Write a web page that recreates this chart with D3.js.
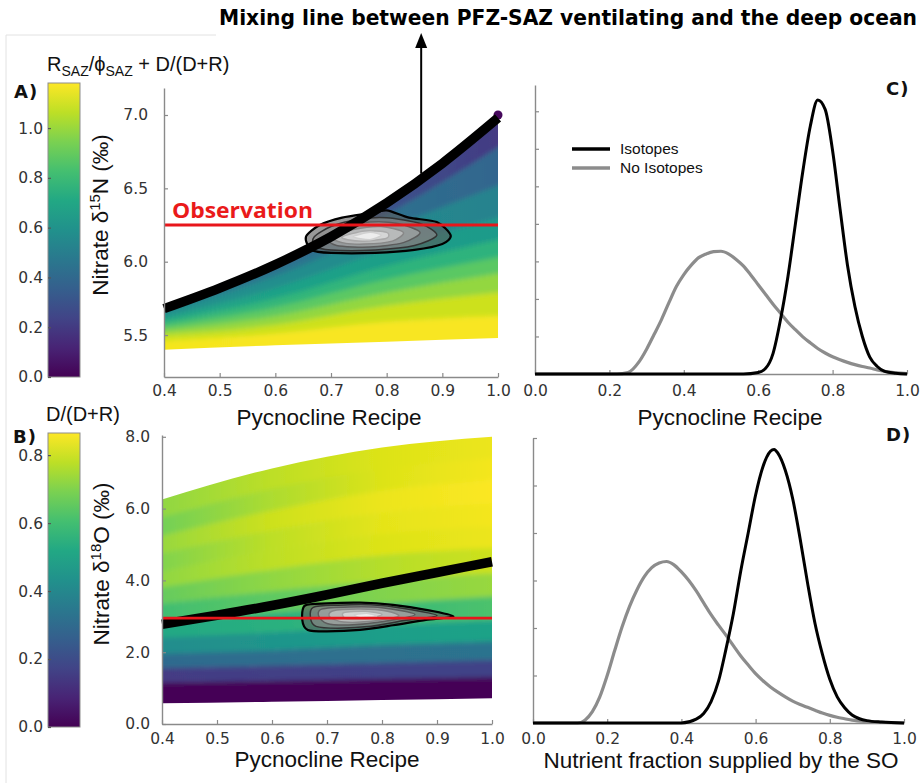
<!DOCTYPE html>
<html>
<head>
<meta charset="utf-8">
<script src="https://cdn.jsdelivr.net/npm/d3@7"></script>
<style>
  body { margin: 0; background: #fff; }
  svg { display: block; }
</style>
</head>
<body>
<div id="figure"></div>
<script>
// ---- data ----
// panels A/B : model scatter band, described by boundary lines at these recipe knots
var bandKnots = [0.4, 0.6, 0.8, 1.0];

// A) nitrate d15N, lines top -> bottom, and colour value of each band (R/phi + D/(D+R))
var linesN = [
  [5.69, 5.98, 6.40, 6.96],
  [5.68, 5.95, 6.32, 6.78],
  [5.66, 5.90, 6.22, 6.52],
  [5.62, 5.82, 6.08, 6.30],
  [5.59, 5.75, 5.97, 6.15],
  [5.56, 5.69, 5.88, 6.03],
  [5.53, 5.63, 5.79, 5.92],
  [5.50, 5.57, 5.70, 5.79],
  [5.46, 5.51, 5.59, 5.63],
  [5.40, 5.43, 5.455, 5.48]
];
var colorsN = [
  [0.45, 0.38, 0.30, 0.20],
  [0.50, 0.47, 0.44, 0.38],
  [0.60, 0.58, 0.56, 0.52],
  [0.70, 0.68, 0.66, 0.64],
  [0.80, 0.78, 0.77, 0.76],
  [0.90, 0.89, 0.88, 0.88],
  [1.00, 0.99, 0.99, 0.99],
  [1.09, 1.09, 1.09, 1.09],
  [1.16, 1.17, 1.17, 1.17]
];

// B) nitrate d18O, colour = D/(D+R)
var linesO = [
  [6.25, 7.12, 7.70, 8.00],
  [5.75, 6.55, 7.10, 7.40],
  [5.25, 5.95, 6.50, 6.80],
  [4.75, 5.40, 5.90, 6.15],
  [4.25, 4.85, 5.30, 5.50],
  [3.80, 4.30, 4.70, 4.90],
  [3.35, 3.70, 4.00, 4.20],
  [2.85, 3.10, 3.35, 3.55],
  [2.40, 2.55, 2.75, 2.90],
  [1.95, 2.05, 2.20, 2.30],
  [1.55, 1.62, 1.70, 1.78],
  [1.15, 1.20, 1.25, 1.30],
  [0.58, 0.62, 0.67, 0.72]
];
var colorsO = [
  [0.72, 0.78, 0.82, 0.84],
  [0.68, 0.76, 0.82, 0.85],
  [0.73, 0.80, 0.84, 0.86],
  [0.70, 0.78, 0.83, 0.85],
  [0.72, 0.78, 0.82, 0.84],
  [0.66, 0.72, 0.77, 0.80],
  [0.60, 0.65, 0.70, 0.73],
  [0.52, 0.55, 0.58, 0.62],
  [0.42, 0.45, 0.48, 0.50],
  [0.30, 0.31, 0.32, 0.33],
  [0.15, 0.16, 0.17, 0.17],
  [0.01, 0.01, 0.01, 0.01]
];

// mixing line between PFZ-SAZ ventilating water and the deep ocean
var mixRecipe = [0.4, 0.5, 0.6, 0.7, 0.8, 0.9, 1.0];
var mixN = [5.68, 5.82, 5.98, 6.17, 6.40, 6.67, 6.98];
var mixO = [2.78, 3.03, 3.30, 3.60, 3.92, 4.22, 4.52];
var obsN = 6.25, obsO = 2.95;
var topDotN = [1.0, 7.0];
var arrowFrom = [0.862, 6.60];

// posterior density contours (outer -> inner), [recipe, value]
var contoursN = [
  [[0.655,6.17],[0.68,6.25],[0.72,6.30],[0.77,6.33],[0.80,6.35],[0.84,6.30],[0.89,6.27],[0.915,6.18],[0.90,6.12],[0.85,6.08],[0.78,6.06],[0.70,6.06],[0.665,6.08]],
  [[0.67,6.17],[0.70,6.24],[0.75,6.29],[0.80,6.30],[0.86,6.26],[0.89,6.18],[0.85,6.11],[0.78,6.08],[0.70,6.08],[0.67,6.11]],
  [[0.69,6.17],[0.72,6.23],[0.77,6.27],[0.82,6.26],[0.86,6.20],[0.83,6.13],[0.77,6.10],[0.71,6.11]],
  [[0.70,6.17],[0.74,6.22],[0.79,6.24],[0.83,6.20],[0.81,6.14],[0.76,6.12],[0.72,6.13]],
  [[0.72,6.17],[0.76,6.21],[0.80,6.20],[0.80,6.16],[0.76,6.14],[0.73,6.15]],
  [[0.74,6.17],[0.77,6.20],[0.79,6.18],[0.77,6.15]]
];
var contoursO = [
  [[0.66,3.30],[0.70,3.36],[0.76,3.38],[0.82,3.32],[0.88,3.18],[0.93,3.00],[0.88,2.90],[0.82,2.75],[0.76,2.62],[0.70,2.58],[0.665,2.62],[0.655,2.90]],
  [[0.675,3.25],[0.72,3.31],[0.78,3.32],[0.84,3.22],[0.90,3.02],[0.84,2.88],[0.78,2.72],[0.72,2.67],[0.68,2.72],[0.67,2.95]],
  [[0.69,3.20],[0.74,3.26],[0.80,3.24],[0.86,3.05],[0.80,2.85],[0.74,2.76],[0.70,2.80],[0.685,3.00]],
  [[0.71,3.15],[0.76,3.20],[0.81,3.14],[0.83,3.00],[0.78,2.86],[0.73,2.84],[0.705,2.98]],
  [[0.73,3.10],[0.77,3.14],[0.80,3.05],[0.77,2.92],[0.735,2.93]],
  [[0.75,3.05],[0.775,3.08],[0.79,3.00],[0.76,2.96]]
];
var contourFill = ["#5a5a5a", "#8a8a8a", "#adadad", "#cdcdcd", "#e6e6e6", "#fbfbfb"];
var contourStroke = ["#000", "#333", "#5c5c5c", "#888", "#aaa", "#d0d0d0"];

// C) pycnocline recipe densities
var cIsoX = [0, 0.56, 0.60, 0.62, 0.64, 0.66, 0.68, 0.70, 0.72, 0.74, 0.76, 0.78, 0.80, 0.82, 0.84, 0.86, 0.88, 0.90, 0.92, 0.94, 0.97, 1.0];
var cIsoY = [0, 0, 0.04, 0.15, 0.55, 1.45, 2.6, 4.0, 5.4, 6.6, 7.3, 7.05, 5.95, 4.4, 2.9, 1.8, 1.0, 0.45, 0.2, 0.07, 0.02, 0];
var cNoX = [0, 0.22, 0.25, 0.28, 0.30, 0.32, 0.34, 0.36, 0.38, 0.40, 0.42, 0.44, 0.46, 0.48, 0.50, 0.52, 0.54, 0.56, 0.58, 0.60, 0.62, 0.64, 0.66, 0.68, 0.70, 0.72, 0.74, 0.76, 0.78, 0.80, 0.82, 0.84, 0.86, 0.88, 0.90, 0.92, 0.94, 0.97, 1.0];
var cNoY = [0, 0, 0.04, 0.33, 0.66, 1.05, 1.45, 1.9, 2.33, 2.65, 2.9, 3.1, 3.2, 3.26, 3.27, 3.2, 3.06, 2.88, 2.64, 2.38, 2.12, 1.86, 1.62, 1.38, 1.18, 0.99, 0.83, 0.68, 0.56, 0.46, 0.38, 0.31, 0.25, 0.2, 0.16, 0.11, 0.07, 0.03, 0.01];

// D) nutrient fraction supplied by the SO densities
var dIsoX = [0, 0.40, 0.44, 0.46, 0.48, 0.50, 0.52, 0.54, 0.56, 0.58, 0.60, 0.62, 0.64, 0.65, 0.66, 0.68, 0.70, 0.72, 0.74, 0.76, 0.78, 0.80, 0.82, 0.84, 0.86, 0.88, 0.90, 0.94, 1.0];
var dIsoY = [0, 0, 0.08, 0.2, 0.45, 0.88, 1.55, 2.3, 3.2, 4.0, 4.8, 5.4, 5.72, 5.76, 5.68, 5.32, 4.72, 3.88, 2.95, 2.1, 1.45, 0.92, 0.55, 0.32, 0.17, 0.09, 0.05, 0.02, 0];
var dNoX = [0, 0.12, 0.14, 0.16, 0.18, 0.20, 0.22, 0.24, 0.26, 0.28, 0.30, 0.32, 0.34, 0.36, 0.38, 0.40, 0.42, 0.44, 0.46, 0.48, 0.50, 0.52, 0.54, 0.56, 0.58, 0.60, 0.62, 0.64, 0.66, 0.68, 0.70, 0.72, 0.74, 0.76, 0.78, 0.80, 0.82, 0.84, 0.86, 0.90, 0.95, 1.0];
var dNoY = [0, 0, 0.06, 0.24, 0.55, 1.0, 1.52, 2.02, 2.45, 2.8, 3.08, 3.27, 3.37, 3.40, 3.33, 3.18, 3.0, 2.78, 2.53, 2.28, 2.06, 1.85, 1.63, 1.41, 1.22, 1.04, 0.89, 0.76, 0.65, 0.55, 0.46, 0.39, 0.33, 0.27, 0.21, 0.16, 0.12, 0.09, 0.06, 0.03, 0.01, 0];

// tick labels
var recipeTicks = [0.4, 0.5, 0.6, 0.7, 0.8, 0.9, 1.0];
var nTicks = [5.5, 6.0, 6.5, 7.0];
var oTicks = [0, 2, 4, 6, 8];
var unitTicks = [0, 0.2, 0.4, 0.6, 0.8, 1.0];
var cbTicksA = [0, 0.2, 0.4, 0.6, 0.8, 1.0];
var cbTicksB = [0, 0.2, 0.4, 0.6, 0.8];
var densTicksC = [1, 2, 3, 4, 5, 6, 7];
var densTicksD = [1, 2, 3, 4, 5, 6];

// ---- drawing ----
var width = 924, height = 783;
var svg = d3.select("#figure").append("svg").attr("width", width).attr("height", height);
var defs = svg.append("defs");
var fmt = d3.format(".1f");
var axisGrey = "#8a8a8a";

var cmaxA = 1.181, cmaxB = 0.865;

// faint frame of the original figure
svg.append("path").attr("d", "M6,783 V35 H216").attr("fill", "none").attr("stroke", "#e2e2e2").attr("stroke-width", 1);

function styleAxis(g, fontSize) {
  g.attr("font-family", "'DejaVu Sans', Verdana, sans-serif").attr("font-size", fontSize || 15.5);
  g.select(".domain").attr("stroke", axisGrey).attr("stroke-width", 1.4);
  g.selectAll(".tick line").attr("stroke", axisGrey).attr("stroke-width", 1.2);
  g.selectAll(".tick text").attr("fill", "#333");
}

function colorbar(id, x0, y0, y1, cmax, ticks) {
  var grad = defs.append("linearGradient").attr("id", id)
    .attr("x1", 0).attr("y1", 1).attr("x2", 0).attr("y2", 0);
  d3.range(0, 1.0001, 0.1).forEach(function(t) {
    grad.append("stop").attr("offset", t).attr("stop-color", d3.interpolateViridis(t));
  });
  var sc = d3.scaleLinear().domain([0, cmax]).range([y1, y0]);
  svg.append("rect").attr("x", x0).attr("y", y0).attr("width", 32).attr("height", y1 - y0)
    .attr("fill", "url(#" + id + ")").attr("stroke", "#8d8d8d").attr("stroke-width", 1);
  var ax = svg.append("g").attr("transform", "translate(" + x0 + ",0)")
    .call(d3.axisLeft(sc).tickValues(ticks).tickFormat(fmt).tickSizeInner(-3).tickSizeOuter(0).tickPadding(5));
  styleAxis(ax);
  ax.select(".domain").remove();
  ax.selectAll(".tick line").attr("stroke", "#555");
  return sc;
}

function drawBand(g, x, y, knots, lines, colors, cmax, id) {
  var color = d3.scaleSequential(d3.interpolateViridis).domain([0, cmax]);
  var x0 = x(knots[0]), x1 = x(knots[knots.length - 1]);
  var idx = d3.range(knots.length);
  var last = lines.length - 2;

  var clip = defs.append("clipPath").attr("id", id + "clip");
  clip.append("path").attr("d", d3.area().curve(d3.curveMonotoneX)
    .x(function(j) { return x(knots[j]); })
    .y1(function(j) { return y(lines[0][j]); })
    .y0(function(j) { return y(lines[lines.length - 1][j]); })(idx));

  var filt = defs.append("filter").attr("id", id + "blur")
    .attr("x", "-5%").attr("y", "-20%").attr("width", "110%").attr("height", "140%");
  filt.append("feGaussianBlur").attr("stdDeviation", "0 2.6");

  var outer = g.append("g").attr("clip-path", "url(#" + id + "clip)");
  var inner = outer.append("g").attr("filter", "url(#" + id + "blur)");

  colors.forEach(function(row, i) {
    var gid = id + "g" + i;
    var grad = defs.append("linearGradient").attr("id", gid).attr("gradientUnits", "userSpaceOnUse")
      .attr("x1", x0).attr("x2", x1).attr("y1", 0).attr("y2", 0);
    row.forEach(function(c, j) {
      grad.append("stop").attr("offset", (knots[j] - knots[0]) / (knots[knots.length - 1] - knots[0]))
        .attr("stop-color", color(c));
    });
    var area = d3.area().curve(d3.curveMonotoneX)
      .x(function(j) { return x(knots[j]); })
      .y1(function(j) { return y(lines[i][j]) - (i === 0 ? 7 : 0); })
      .y0(function(j) { return y(lines[i + 1][j]) + (i === last ? 7 : 0.6); });
    inner.append("path").attr("d", area(idx)).attr("fill", "url(#" + gid + ")");
  });
}

function drawContours(g, x, y, sets) {
  var line = d3.line().curve(d3.curveCardinalClosed.tension(0.2))
    .x(function(d) { return x(d[0]); }).y(function(d) { return y(d[1]); });
  sets.forEach(function(pts, i) {
    g.append("path").attr("d", line(pts))
      .attr("fill", contourFill[i]).attr("fill-opacity", 0.62)
      .attr("stroke", contourStroke[i]).attr("stroke-width", i === 0 ? 2.2 : 1.5);
  });
}

function mixLine(g, x, y, vals) {
  var line = d3.line().curve(d3.curveMonotoneX)
    .x(function(d, i) { return x(mixRecipe[i]); }).y(function(d) { return y(d); });
  g.append("path").attr("d", line(vals)).attr("fill", "none").attr("stroke", "#000").attr("stroke-width", 9.5);
}

function axisTitle(text, x, y, rotate) {
  return svg.append("text").attr("text-anchor", "middle")
    .attr("transform", "translate(" + x + "," + y + ")" + (rotate ? " rotate(-90)" : ""))
    .attr("font-family", "'Liberation Sans', Arial, sans-serif").attr("font-size", 22.5).attr("fill", "#111")
    .text(text);
}

function panelLabel(text, x, y) {
  svg.append("text").attr("x", x).attr("y", y).attr("font-family", "'DejaVu Sans', Verdana, sans-serif")
    .attr("font-weight", "bold").attr("font-size", 18).attr("letter-spacing", 1).attr("fill", "#111").text(text);
}

// ---- panel A ----
var xA = d3.scaleLinear().domain([0.4, 1.0]).range([164, 498]);
var yA = d3.scaleLinear().domain([5.214, 7.184]).range([377, 88]);
var gA = svg.append("g");
drawBand(gA, xA, yA, bandKnots, linesN, colorsN, cmaxA, "bandA");
gA.append("circle").attr("cx", xA(topDotN[0])).attr("cy", yA(topDotN[1])).attr("r", 4.5)
  .attr("fill", d3.interpolateViridis(0.02));
drawContours(gA, xA, yA, contoursN);
mixLine(gA, xA, yA, mixN);
gA.append("line").attr("x1", xA(0.4)).attr("x2", xA(1.0)).attr("y1", yA(obsN)).attr("y2", yA(obsN))
  .attr("stroke", "#e8161b").attr("stroke-width", 3);
gA.append("text").attr("x", 172).attr("y", 218).attr("font-family", "'Open Sans', 'Liberation Sans', sans-serif")
  .attr("font-weight", "bold").attr("font-size", 21).attr("fill", "#ea1a1a")
  .attr("textLength", 141).attr("lengthAdjust", "spacingAndGlyphs").text("Observation");

var axAx = svg.append("g").attr("transform", "translate(0,377)")
  .call(d3.axisBottom(xA).tickValues(recipeTicks).tickFormat(fmt).tickSizeInner(-4).tickSizeOuter(0).tickPadding(8));
styleAxis(axAx);
var axAy = svg.append("g").attr("transform", "translate(164,0)")
  .call(d3.axisLeft(yA).tickValues(nTicks).tickFormat(fmt).tickSizeInner(-4).tickSizeOuter(0).tickPadding(16));
styleAxis(axAy);

var tA = axisTitle("", 108, 215, true);
tA.append("tspan").text("Nitrate δ");
tA.append("tspan").attr("font-size", 15).attr("dy", -8).text("15");
tA.append("tspan").attr("dy", 8).text("N (‰)");
axisTitle("Pycnocline Recipe", 329, 425, false);

// ---- panel B ----
var xB = d3.scaleLinear().domain([0.4, 1.0]).range([162, 492]);
var yB = d3.scaleLinear().domain([0, 8.05]).range([724, 435]);
var gB = svg.append("g");
drawBand(gB, xB, yB, bandKnots, linesO, colorsO, cmaxB, "bandB");
drawContours(gB, xB, yB, contoursO);
mixLine(gB, xB, yB, mixO);
gB.append("line").attr("x1", xB(0.4)).attr("x2", xB(1.0)).attr("y1", yB(obsO)).attr("y2", yB(obsO))
  .attr("stroke", "#e8161b").attr("stroke-width", 2.6);

var axBx = svg.append("g").attr("transform", "translate(0,724)")
  .call(d3.axisBottom(xB).tickValues(recipeTicks).tickFormat(fmt).tickSizeInner(-4).tickSizeOuter(0).tickPadding(9));
styleAxis(axBx);
var axBy = svg.append("g").attr("transform", "translate(162,0)")
  .call(d3.axisLeft(yB).tickValues(oTicks).tickFormat(fmt).tickSizeInner(-4).tickSizeOuter(0).tickPadding(12));
styleAxis(axBy);

var tB = axisTitle("", 109, 564, true);
tB.append("tspan").text("Nitrate δ");
tB.append("tspan").attr("font-size", 15).attr("dy", -8).text("18");
tB.append("tspan").attr("dy", 8).text("O (‰)");
axisTitle("Pycnocline Recipe", 327, 767, false);

// ---- colour bars ----
colorbar("cbA", 48, 83, 377, cmaxA, cbTicksA);
colorbar("cbB", 48, 433, 727, cmaxB, cbTicksB);
var lblA = svg.append("text").attr("x", 47).attr("y", 71)
  .attr("font-family", "'Liberation Sans', Arial, sans-serif").attr("font-size", 20).attr("fill", "#111");
lblA.append("tspan").text("R");
lblA.append("tspan").attr("font-size", 14).attr("dy", 5).text("SAZ");
lblA.append("tspan").attr("dy", -5).text("/ϕ");
lblA.append("tspan").attr("font-size", 14).attr("dy", 5).text("SAZ");
lblA.append("tspan").attr("dy", -5).text(" + D/(D+R)");
svg.append("text").attr("x", 46).attr("y", 421)
  .attr("font-family", "'Liberation Sans', Arial, sans-serif").attr("font-size", 20).attr("fill", "#111")
  .text("D/(D+R)");

// ---- density panels C and D ----
function densityPanel(xr, yBase, yTop, ymax, dTicks, series, pad) {
  var x = d3.scaleLinear().domain([0, 1]).range(xr);
  var y = d3.scaleLinear().domain([0, ymax]).range([yBase, yTop]);
  var ax = svg.append("g").attr("transform", "translate(0," + yBase + ")")
    .call(d3.axisBottom(x).tickValues(unitTicks).tickFormat(fmt).tickSizeInner(-4).tickSizeOuter(0).tickPadding(pad));
  styleAxis(ax);
  var ay = svg.append("g").attr("transform", "translate(" + xr[0] + ",0)")
    .call(d3.axisLeft(y).tickValues(dTicks).tickFormat("").tickSizeInner(-4).tickSizeOuter(0));
  styleAxis(ay);
  var line = d3.line().curve(d3.curveMonotoneX);
  series.forEach(function(s) {
    var pts = s.xs.map(function(v, i) { return [x(v), y(s.ys[i])]; });
    svg.append("path").attr("d", line(pts)).attr("fill", "none")
      .attr("stroke", s.color).attr("stroke-width", s.w).attr("stroke-linejoin", "round");
  });
  return x;
}

densityPanel([535, 907], 374, 85, 7.7, densTicksC, [
  {xs: cNoX, ys: cNoY, color: "#8c8c8c", w: 3.2},
  {xs: cIsoX, ys: cIsoY, color: "#000", w: 3}
], 11);
densityPanel([533, 904], 723, 438, 6.0, densTicksD, [
  {xs: dNoX, ys: dNoY, color: "#8c8c8c", w: 3.2},
  {xs: dIsoX, ys: dIsoY, color: "#000", w: 3}
], 10);
axisTitle("Pycnocline Recipe", 730, 425, false);
axisTitle("Nutrient fraction supplied by the SO", 721, 768, false);

// legend in C
var legend = [{name: "Isotopes", color: "#000", y: 149}, {name: "No Isotopes", color: "#8c8c8c", y: 168}];
legend.forEach(function(d) {
  svg.append("line").attr("x1", 572).attr("x2", 610).attr("y1", d.y).attr("y2", d.y)
    .attr("stroke", d.color).attr("stroke-width", 3.5);
  svg.append("text").attr("x", 620).attr("y", d.y).attr("dy", "0.35em")
    .attr("font-family", "'Liberation Sans', Arial, sans-serif").attr("font-size", 15.5).attr("fill", "#111")
    .text(d.name);
});

// panel letters
panelLabel("A)", 14, 98);
panelLabel("B)", 13, 443);
panelLabel("C)", 886, 95);
panelLabel("D)", 886, 441);

// ---- title and arrow ----
svg.append("text").attr("x", 219).attr("y", 25)
  .attr("font-family", "'Liberation Sans Narrow', 'DejaVu Sans Condensed', 'Liberation Sans', sans-serif")
  .attr("font-weight", "bold").attr("font-size", 22).attr("fill", "#000")
  .attr("textLength", 698).attr("lengthAdjust", "spacingAndGlyphs")
  .text("Mixing line between PFZ-SAZ ventilating and the deep ocean");
var ax0 = xA(arrowFrom[0]);
svg.append("line").attr("x1", ax0).attr("x2", ax0).attr("y1", yA(arrowFrom[1])).attr("y2", 46)
  .attr("stroke", "#000").attr("stroke-width", 2);
svg.append("path").attr("d", "M" + ax0 + ",33 L" + (ax0 - 6) + ",48 L" + (ax0 + 6) + ",48 Z").attr("fill", "#000");
</script>
</body>
</html>
